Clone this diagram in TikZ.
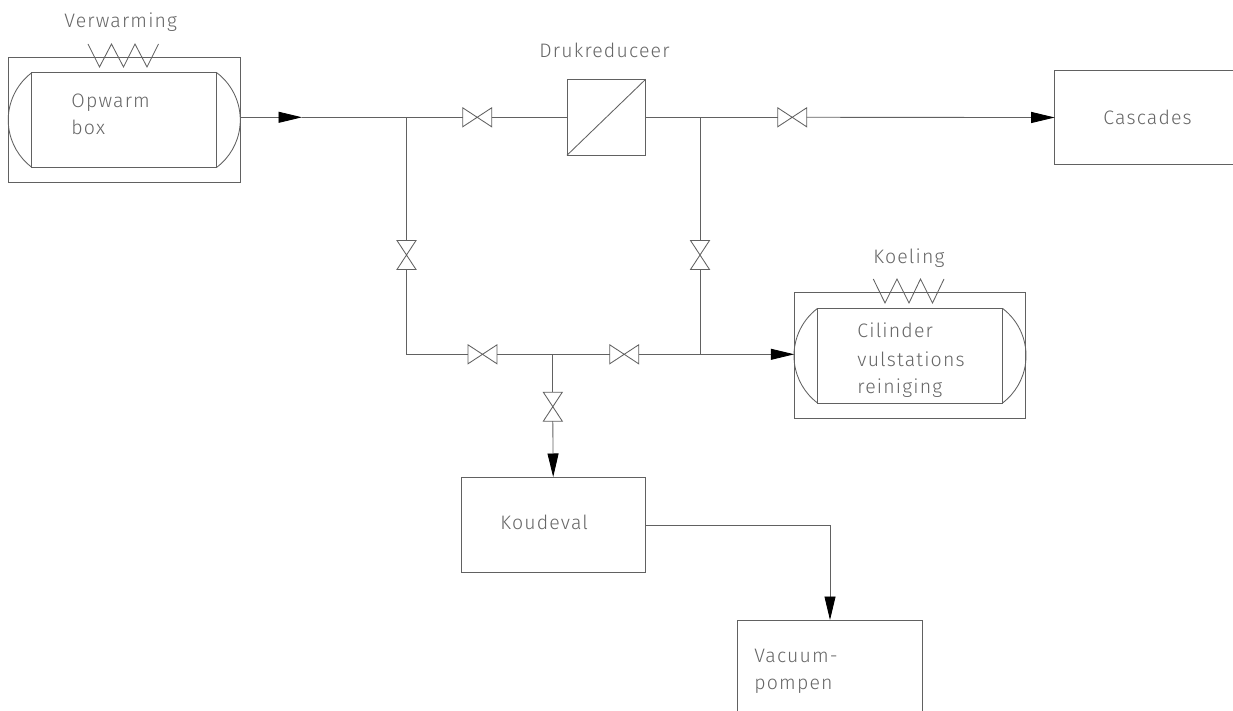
\documentclass[tikz,border=0pt]{standalone}
\usepackage{fontspec}
\setmainfont[LetterSpace=6]{Fira Sans Light}
\usetikzlibrary{arrows.meta,calc}
\definecolor{pipe}{gray}{0.38}
\definecolor{lbl}{gray}{0.4}
\tikzset{
  x=1pt,y=-1pt,
  boxn/.style={draw=pipe,rectangle,inner sep=0pt,outer sep=0pt,minimum width=#1},
  valvebox/.style={rectangle,inner sep=0pt,outer sep=0pt},
  valveh/.style={valvebox,minimum width=29pt,minimum height=19pt},
  valvev/.style={valvebox,minimum width=19pt,minimum height=29pt},
  pipeline/.style={draw=pipe},
  flow/.style={draw=pipe,-{Triangle[length=23.5pt,width=11pt,fill=black,color=black]}},
  lab/.style={anchor=base west,inner sep=0pt,text=lbl,font=\fontsize{19.5}{19.5}\selectfont},
}
\newcommand{\valveH}[3]{\node[valveh] (#1) at (#2,#3) {};
  \draw[pipeline,line join=miter] (#1.north west)--(#1.south east)--(#1.north east)--(#1.south west)--cycle;}
\newcommand{\valveV}[3]{\node[valvev] (#1) at (#2,#3) {};
  \draw[pipeline,line join=miter] (#1.north west)--(#1.north east)--(#1.south west)--(#1.south east)--cycle;}
\begin{document}
\begin{tikzpicture}[line width=0.85pt]
\useasboundingbox (0,0) rectangle (1233,711);
\clip (0,0) rectangle (1233,711);
\fill[white] (0,0) rectangle (1233,711);
% equipment
\node[boxn=231.5pt,minimum height=125.5pt] (opwarm) at (124.25,120) {};
\node[boxn=231.5pt,minimum height=125.5pt] (cilinder) at (910,355.5) {};
\node[boxn=78.7pt,minimum height=76pt] (reducer) at (606.3,117.3) {};
\node[boxn=184.3pt,minimum height=95pt] (koudeval) at (553.2,524.5) {};
\node[boxn=184.7pt,minimum height=140pt] (vacuum) at (829.7,690) {};
\node[boxn=200pt,minimum height=94.4pt] (cascades) at (1154.7,117.5) {};
\draw[pipeline] (reducer.south west)--(reducer.north east);
% vessels
\foreach \n/\cx/\cy in {ov/124.25/120,cv/910/355.7}{
  \draw[pipeline] ($(\cx,\cy)+(-92.5,-47.3)$) rectangle ($(\cx,\cy)+(92.5,47.3)$);
  \draw[pipeline] ($(\cx,\cy)+(-92.5,-47.3)$) arc[start angle=127.1,end angle=232.9,radius=59.3pt];
  \draw[pipeline] ($(\cx,\cy)+(92.5,-47.3)$) arc[start angle=52.9,end angle=-52.9,radius=59.3pt];
}
% heating and cooling coils
\draw[pipeline] (88,44)--(99.5,67)--(111.5,44)--(123.5,67)--(135,44)--(147,67)--(158.5,44);
\draw[pipeline] (873.3,279)--(885,303)--(897,279)--(909,303)--(920.5,279)--(932.5,303)--(944,279);
% valves
\valveH{v1}{477.2}{117.3}
\valveH{v2}{792.2}{117.3}
\valveV{v3}{406.5}{255}
\valveV{v4}{700}{255}
\valveH{v5}{482.5}{354.3}
\valveH{v6}{624.2}{354.3}
\valveV{v7}{552.8}{406.7}
% junctions
\coordinate (jl) at (406.5,117.3);
\coordinate (jr) at (700,117.3);
\coordinate (jb) at (406.5,354.3);
\coordinate (jm) at (552.8,354.3);
\coordinate (jc) at (700,354.3);
\coordinate (a1) at (302,117.3);
\coordinate (bend) at (830,525);
% pipes
\draw[flow] (opwarm.east |- jl) -- (a1);
\draw[pipeline] (a1) -- (jl) -- (v1.west);
\draw[pipeline] (v1.east) -- (reducer.west);
\draw[pipeline] (reducer.east) -- (jr) -- (v2.west);
\draw[flow] (v2.east) -- (cascades.west);
\draw[pipeline] (jl) -- (v3.north);
\draw[pipeline] (v3.south) -- (jb) -- (v5.west);
\draw[pipeline] (v5.east) -- (jm) -- (v6.west);
\draw[pipeline] (v6.east) -- (jc);
\draw[pipeline] (jr) -- (v4.north);
\draw[pipeline] (v4.south) -- (jc);
\draw[flow] (jc) -- (cilinder.west |- jc);
\draw[pipeline] (jm) -- (v7.north);
\draw[flow] (v7.south) -- (koudeval.north);
\draw[pipeline] (koudeval.east |- bend) -- (bend);
\draw[flow] (bend) -- (bend |- vacuum.north);
% labels
\node[lab] (t1) at (64,28) {Verwarming};
\node[lab] (t2) at (71,108) {Opwarm};
\node[lab] (t3) at (71,135) {box};
\node[lab] (t4) at (539,58) {Drukreduceer};
\node[lab] (t5) at (873,263) {Koeling};
\node[lab] (t6) at (857,337) {Cilinder};
\node[lab] (t7) at (857,366) {vulstations};
\node[lab] (t8) at (857,393) {reiniging};
\node[lab] (t9) at (500,529) {Koudeval};
\node[lab] (t10) at (754,662) {Vacuum-};
\node[lab] (t11) at (754,689) {pompen};
\node[lab] (t12) at (1103,125) {Cascades};
\end{tikzpicture}
\end{document}
